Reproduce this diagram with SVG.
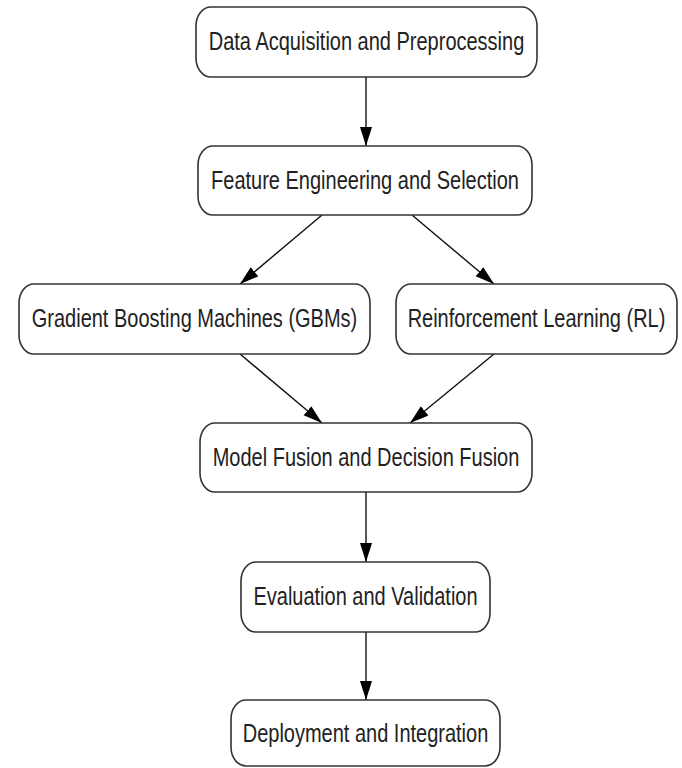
<svg xmlns="http://www.w3.org/2000/svg" width="682" height="768" viewBox="0 0 682 768">
  <style>
    .box { fill: #ffffff; stroke: #333333; stroke-width: 1.6; }
    .label { font-family: "Liberation Sans", Arial, sans-serif; font-size: 20px; fill: #222222; text-anchor: middle; }
    .edge { fill: none; stroke: #111111; stroke-width: 1.4; }
  </style>
  <defs>
    <marker id="arrow" markerUnits="userSpaceOnUse" markerWidth="20" markerHeight="14" refX="19" refY="6" orient="auto">
      <path d="M0,0 L19,6 L0,12 Z" fill="#000000"/>
    </marker>
  </defs>
  <rect width="682" height="768" fill="#ffffff"/>

  <g id="edges">
    <line class="edge" x1="366" y1="77" x2="366" y2="146" marker-end="url(#arrow)"/>
    <line class="edge" x1="322" y1="215" x2="240" y2="284" marker-end="url(#arrow)"/>
    <line class="edge" x1="412" y1="215" x2="494" y2="284" marker-end="url(#arrow)"/>
    <line class="edge" x1="240" y1="354" x2="322" y2="423" marker-end="url(#arrow)"/>
    <line class="edge" x1="494" y1="354" x2="410" y2="423" marker-end="url(#arrow)"/>
    <line class="edge" x1="366" y1="492" x2="366" y2="562" marker-end="url(#arrow)"/>
    <line class="edge" x1="366" y1="632" x2="366" y2="700" marker-end="url(#arrow)"/>
  </g>

  <g id="data-acquisition">
    <rect class="box" x="196" y="7" width="341" height="70" rx="15" ry="19"/>
    <text class="label" transform="translate(366.5,50) scale(1,1.25)">Data Acquisition and Preprocessing</text>
  </g>

  <g id="feature-engineering">
    <rect class="box" x="198" y="146" width="334" height="69" rx="15" ry="19"/>
    <text class="label" transform="translate(365,188.5) scale(1,1.25)">Feature Engineering and Selection</text>
  </g>

  <g id="gbm">
    <rect class="box" x="19" y="284" width="351" height="70" rx="15" ry="19"/>
    <text class="label" transform="translate(194.5,327) scale(1,1.25)">Gradient Boosting Machines (GBMs)</text>
  </g>

  <g id="rl">
    <rect class="box" x="396" y="284" width="281" height="70" rx="15" ry="19"/>
    <text class="label" transform="translate(536.5,327) scale(1,1.25)">Reinforcement Learning (RL)</text>
  </g>

  <g id="model-fusion">
    <rect class="box" x="200" y="423" width="332" height="69" rx="15" ry="19"/>
    <text class="label" transform="translate(366,465.5) scale(1,1.25)">Model Fusion and Decision Fusion</text>
  </g>

  <g id="evaluation">
    <rect class="box" x="241" y="562" width="249" height="70" rx="15" ry="19"/>
    <text class="label" transform="translate(365.5,605) scale(1,1.25)">Evaluation and Validation</text>
  </g>

  <g id="deployment">
    <rect class="box" x="231" y="700" width="269" height="66" rx="15" ry="19"/>
    <text class="label" transform="translate(365.5,742) scale(1,1.25)">Deployment and Integration</text>
  </g>
</svg>
